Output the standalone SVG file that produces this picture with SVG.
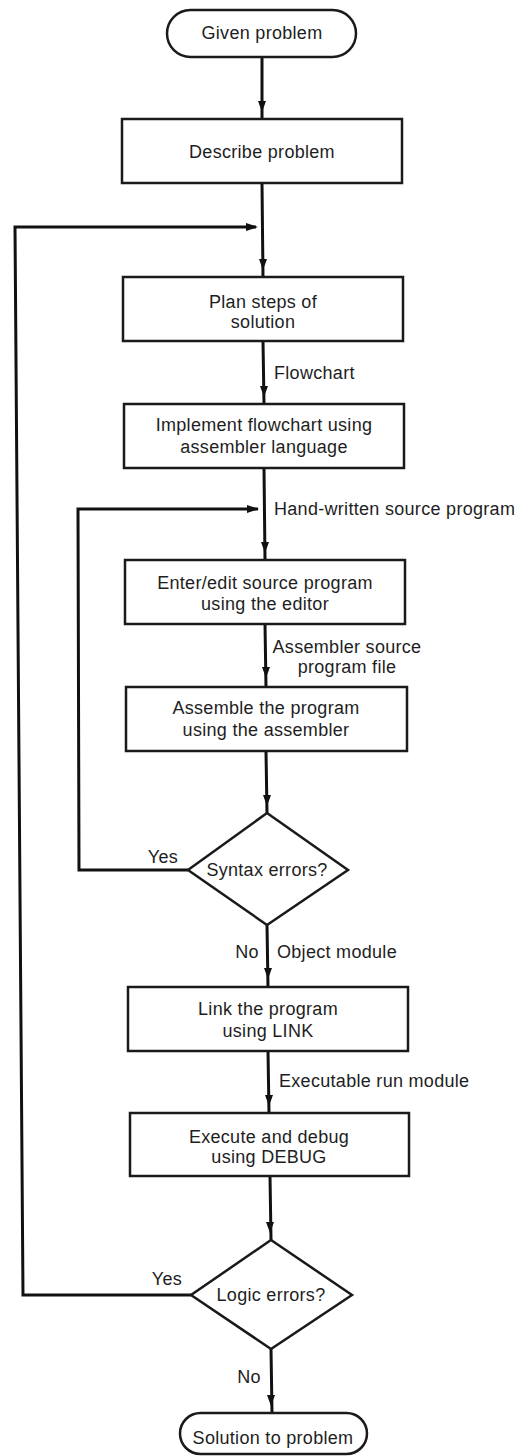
<svg xmlns="http://www.w3.org/2000/svg" width="531" height="1456" viewBox="0 0 531 1456">
<style>
  .box { fill: #fff; stroke: #1a1a1a; stroke-width: 2.5; }
  .ln { fill: none; stroke: #111; stroke-width: 3; stroke-linejoin: miter; }
  .ah { fill: #111; }
  text { font-family: "Liberation Sans", Arial, sans-serif; font-size: 18px; fill: #1e1e1e; letter-spacing: 0.3px; }
  .c { text-anchor: middle; }
</style>
<rect width="531" height="1456" fill="#fff"/>
<g id="connectors">
  <line class="ln" x1="262" y1="57" x2="262" y2="119"/>
  <line class="ln" x1="262" y1="183" x2="263" y2="277"/>
  <line class="ln" x1="263" y1="341" x2="264" y2="404"/>
  <line class="ln" x1="264" y1="468" x2="265" y2="560"/>
  <line class="ln" x1="265" y1="624" x2="266" y2="687"/>
  <line class="ln" x1="266" y1="751" x2="267" y2="813"/>
  <line class="ln" x1="267" y1="925" x2="268" y2="987"/>
  <line class="ln" x1="268" y1="1051" x2="269" y2="1113"/>
  <line class="ln" x1="270" y1="1176" x2="271" y2="1240"/>
  <line class="ln" x1="271" y1="1349" x2="272" y2="1413"/>
  <polyline class="ln" points="188,870 79,870 78,509 258,509"/>
  <polyline class="ln" points="191,1295 23,1295 15,227 256,227"/>
  <polygon class="ah" points="262,112 258,101 266,101"/>
  <polygon class="ah" points="263,270 259,259 267,259"/>
  <polygon class="ah" points="264,397 260,386 268,386"/>
  <polygon class="ah" points="265,553 261,542 269,542"/>
  <polygon class="ah" points="266,678 262,667 270,667"/>
  <polygon class="ah" points="267,806 263,795 271,795"/>
  <polygon class="ah" points="268,979 264,968 272,968"/>
  <polygon class="ah" points="269,1106 265,1095 273,1095"/>
  <polygon class="ah" points="270,1233 266,1222 274,1222"/>
  <polygon class="ah" points="271,1406 267,1395 275,1395"/>
  <polygon class="ah" points="258,227 246,223 246,231"/>
  <polygon class="ah" points="259,509 247,505 247,513"/>
  <text x="274" y="379">Flowchart</text>
  <text x="274" y="515">Hand-written source program</text>
  <text class="c" x="347" y="653">Assembler source</text>
  <text class="c" x="347" y="673">program file</text>
  <text class="c" x="163" y="863">Yes</text>
  <text class="c" x="247" y="958">No</text>
  <text x="277" y="958">Object module</text>
  <text x="279" y="1087">Executable run module</text>
  <text class="c" x="167" y="1285">Yes</text>
  <text class="c" x="249" y="1383">No</text>
</g>
<g id="given">
  <rect class="box" x="167" y="10" width="189" height="47" rx="23.5"/>
  <text class="c" x="262" y="39">Given problem</text>
</g>
<g id="describe">
  <rect class="box" x="122" y="119" width="280" height="64"/>
  <text class="c" x="262" y="158">Describe problem</text>
</g>
<g id="plan">
  <rect class="box" x="123" y="277" width="280" height="64"/>
  <text class="c" x="263" y="308">Plan steps of</text>
  <text class="c" x="263" y="328">solution</text>
</g>
<g id="implement">
  <rect class="box" x="124" y="404" width="280" height="64"/>
  <text class="c" x="264" y="431">Implement flowchart using</text>
  <text class="c" x="264" y="453">assembler language</text>
</g>
<g id="enter">
  <rect class="box" x="125" y="560" width="280" height="64"/>
  <text class="c" x="265" y="589">Enter/edit source program</text>
  <text class="c" x="265" y="610">using the editor</text>
</g>
<g id="assemble">
  <rect class="box" x="126" y="687" width="281" height="64"/>
  <text class="c" x="266" y="714">Assemble the program</text>
  <text class="c" x="266" y="736">using the assembler</text>
</g>
<g id="syntax">
  <polygon class="box" points="267,813 348,870 267,925 188,870"/>
  <text class="c" x="267" y="876">Syntax errors?</text>
</g>
<g id="link">
  <rect class="box" x="128" y="987" width="280" height="64"/>
  <text class="c" x="268" y="1015">Link the program</text>
  <text class="c" x="268" y="1037">using LINK</text>
</g>
<g id="execute">
  <rect class="box" x="130" y="1113" width="279" height="63"/>
  <text class="c" x="269" y="1143">Execute and debug</text>
  <text class="c" x="269" y="1163">using DEBUG</text>
</g>
<g id="logic">
  <polygon class="box" points="271,1240 352,1295 271,1349 191,1295"/>
  <text class="c" x="271" y="1301">Logic errors?</text>
</g>
<g id="solution">
  <rect class="box" x="180" y="1413" width="187" height="41" rx="20.5"/>
  <text class="c" x="273" y="1444">Solution to problem</text>
</g>
</svg>
